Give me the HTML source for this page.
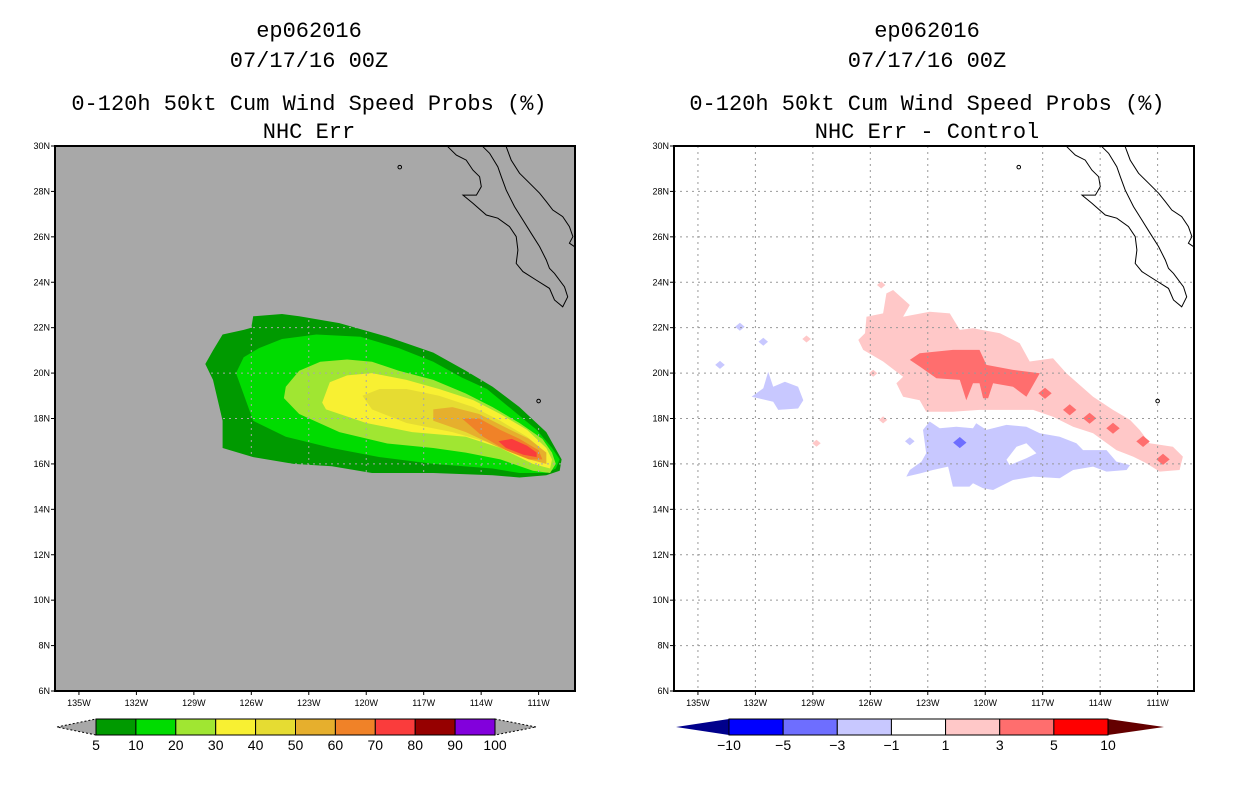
<!DOCTYPE html>
<html><head><meta charset="utf-8"><style>
body{margin:0;background:#fff;width:1236px;height:800px;overflow:hidden}
svg{display:block}
text{font-family:"Liberation Mono",monospace}
.tk{font-family:"Liberation Sans",sans-serif;font-size:9px}
.cb{font-family:"Liberation Sans",sans-serif;font-size:14px}
</style></head><body>
<svg id="chart" width="1236" height="800" viewBox="0 0 1236 800">
<g id="titles">
<text x="309" y="37" text-anchor="middle" font-size="22">ep062016</text>
<text x="309" y="67" text-anchor="middle" font-size="22">07/17/16 00Z</text>
<text x="309" y="110" text-anchor="middle" font-size="22">0-120h 50kt Cum Wind Speed Probs (%)</text>
<text x="309" y="138" text-anchor="middle" font-size="22">NHC Err</text>
<text x="927" y="37" text-anchor="middle" font-size="22">ep062016</text>
<text x="927" y="67" text-anchor="middle" font-size="22">07/17/16 00Z</text>
<text x="927" y="110" text-anchor="middle" font-size="22">0-120h 50kt Cum Wind Speed Probs (%)</text>
<text x="927" y="138" text-anchor="middle" font-size="22">NHC Err - Control</text>
</g>
</svg>
<script>
// ---- data ----
const lonTicks=[-135,-132,-129,-126,-123,-120,-117,-114,-111];
const lonTickLabels=["135W","132W","129W","126W","123W","120W","117W","114W","111W"];
const latTicks=[6,8,10,12,14,16,18,20,22,24,26,28,30];
const latTickLabels=["6N","8N","10N","12N","14N","16N","18N","20N","22N","24N","26N","28N","30N"];
const probLevels=["5","10","20","30","40","50","60","70","80","90","100"];
const probColors=["#009a00","#00dc00","#a0e632","#f8f032","#e6dc32","#e6af2d","#f08228","#fa3c3c","#960000","#8200dc"];
const diffLevels=["-10","-5","-3","-1","1","3","5","10"];
const diffColors=["#0000ff","#6e6eff","#c8c8ff","#ffffff","#ffc8c8","#ff6e6e","#ff0000"];
const prob5=[[-125.9,22.5],[-124.4,22.6],[-123.5,22.5],[-121.4,22.2],[-118.9,21.6],[-116.5,20.9],[-114.8,20.1],[-113.4,19.4],[-112.0,18.5],[-110.6,17.4],[-109.8,16.2],[-109.9,15.7],[-110.6,15.5],[-112.0,15.4],[-113.4,15.5],[-116.5,15.6],[-119.7,15.6],[-121.8,15.9],[-123.8,16.0],[-125.9,16.3],[-127.5,16.7],[-127.5,17.9],[-128.0,19.7],[-128.4,20.4],[-128.0,21.0],[-127.5,21.7],[-126.4,21.9],[-126.0,22.0]];
const prob10=[[-124.4,21.5],[-122.6,21.7],[-120.3,21.6],[-118.3,21.1],[-116.5,20.5],[-115.0,19.8],[-113.7,19.3],[-112.4,18.4],[-111.1,17.5],[-110.3,16.7],[-109.9,16.2],[-110.1,15.8],[-110.6,15.6],[-112.0,15.6],[-113.4,15.8],[-116.5,16.0],[-119.3,16.3],[-121.8,16.7],[-124.2,17.2],[-125.9,17.9],[-126.8,20.0],[-126.4,20.7],[-125.6,21.1]];
const prob20=[[-124.2,19.4],[-123.5,20.1],[-122.4,20.5],[-121.0,20.6],[-119.7,20.5],[-118.3,20.1],[-116.5,19.7],[-114.8,19.1],[-113.4,18.5],[-112.0,17.8],[-110.8,17.1],[-110.3,16.5],[-110.1,16.0],[-110.4,15.6],[-111.3,15.7],[-113.0,16.2],[-114.8,16.5],[-116.5,16.7],[-118.9,16.9],[-121.4,17.4],[-123.5,18.2],[-124.3,18.9]];
const prob30=[[-122.3,18.7],[-121.9,19.6],[-121.0,19.9],[-119.7,20.0],[-117.9,19.7],[-116.2,19.3],[-114.4,18.8],[-113.0,18.2],[-111.6,17.5],[-110.6,16.7],[-110.3,16.2],[-110.4,15.8],[-111.3,16.0],[-113.0,16.7],[-114.8,17.2],[-117.6,17.4],[-120.0,17.8],[-122.1,18.4]];
const prob40=[[-120.2,19.0],[-119.3,19.3],[-117.9,19.3],[-116.2,19.0],[-114.4,18.5],[-113.0,17.9],[-111.6,17.2],[-110.6,16.5],[-110.6,16.0],[-111.6,16.3],[-113.4,16.9],[-115.5,17.4],[-117.9,17.8],[-119.7,18.4]];
const prob50=[[-116.5,18.4],[-115.5,18.5],[-114.1,18.2],[-112.7,17.6],[-111.5,17.1],[-110.6,16.5],[-110.6,16.0],[-111.5,16.2],[-113.0,16.7],[-114.8,17.4],[-116.5,17.9]];
const prob60=[[-115.0,18.0],[-114.1,18.0],[-113.0,17.5],[-112.0,17.1],[-111.0,16.6],[-110.8,16.2],[-111.5,16.2],[-112.7,16.6],[-113.9,17.2]];
const prob70=[[-113.1,17.0],[-112.4,17.1],[-111.6,16.8],[-111.1,16.5],[-111.1,16.3],[-111.8,16.4],[-112.7,16.7]];
const diffPos1=[[-126.2,22.48],[-125.33,22.63],[-125.16,23.51],[-124.81,23.66],[-123.94,23.0],[-124.29,22.48],[-122.9,22.7],[-121.85,22.63],[-121.33,21.9],[-120.64,21.97],[-119.23,21.75],[-118.2,21.31],[-117.68,20.51],[-116.46,20.65],[-115.76,19.99],[-114.37,18.96],[-113.33,18.38],[-112.44,17.94],[-111.94,17.5],[-111.42,16.91],[-110.2,16.76],[-109.68,16.32],[-109.85,15.73],[-110.89,15.66],[-111.59,16.03],[-112.28,16.32],[-113.15,16.61],[-114.37,17.35],[-115.41,17.64],[-116.46,18.08],[-117.5,18.38],[-118.89,18.38],[-120.3,18.38],[-121.69,18.3],[-123.08,18.3],[-123.42,18.8],[-124.29,18.96],[-124.64,19.55],[-124.29,19.84],[-125.33,20.51],[-126.37,21.02],[-126.63,21.46],[-126.28,21.75]];
const diffPos3=[[-123.94,20.58],[-123.42,20.87],[-121.69,21.02],[-120.3,21.02],[-119.94,20.36],[-118.55,20.14],[-117.15,19.99],[-117.85,18.96],[-118.55,19.4],[-119.59,19.55],[-119.85,18.89],[-120.11,18.89],[-120.3,19.55],[-120.64,19.55],[-120.99,18.8],[-121.33,19.7],[-122.55,19.77],[-123.42,20.29]];
const diffPos3Blobs=[[-116.88,19.11],[-115.59,18.38],[-114.55,18.01],[-113.33,17.57],[-111.76,16.99],[-110.72,16.2]];
const diffPos1Blobs=[[-125.43,23.88],[-129.33,21.5],[-128.81,16.91],[-125.33,17.94],[-125.85,19.99]];
const diffNeg1=[[-123.25,17.5],[-122.9,17.87],[-122.38,17.57],[-121.51,17.64],[-120.64,17.57],[-120.47,17.79],[-119.94,17.5],[-118.89,17.72],[-117.85,17.64],[-117.15,17.35],[-116.11,17.2],[-115.24,16.91],[-114.89,16.61],[-113.67,16.61],[-113.15,16.1],[-112.44,15.95],[-112.62,15.73],[-113.67,15.66],[-114.37,15.88],[-115.41,15.73],[-116.11,15.37],[-117.5,15.44],[-118.55,15.29],[-119.59,14.85],[-120.11,14.93],[-120.64,15.15],[-120.82,15.0],[-121.69,15.0],[-121.94,15.88],[-122.73,15.73],[-123.42,15.58],[-124.12,15.44],[-123.94,15.73],[-123.33,16.1],[-123.08,16.47]];
const diffNegHole=[[-118.89,16.18],[-118.37,16.76],[-117.85,16.91],[-117.33,16.47],[-117.85,16.25],[-118.72,15.95]];
const diffNegWest=[[-132.2,18.96],[-131.59,19.33],[-131.33,20.06],[-131.07,19.4],[-130.46,19.62],[-129.77,19.4],[-129.5,18.8],[-129.77,18.44],[-130.81,18.38],[-131.07,18.74],[-131.85,18.89]];
const diffNeg1Blobs=[[-131.59,21.38],[-132.81,22.04],[-133.85,20.36],[-123.94,17.0]];
const diffNeg3Blobs=[[-121.33,16.94]];
const bajaCoast=[[-115.74,29.97],[-115.3,29.6],[-114.78,29.38],[-114.43,28.94],[-114.08,28.65],[-113.99,28.21],[-114.25,27.84],[-114.95,27.84],[-114.43,27.48],[-113.73,26.96],[-113.13,26.82],[-112.52,26.45],[-112.17,26.01],[-112.08,25.42],[-112.17,24.83],[-111.82,24.47],[-111.13,24.1],[-110.43,23.73],[-110.17,23.22],[-109.74,22.92],[-109.48,23.36],[-109.65,23.8],[-110.17,24.39],[-110.43,24.61],[-110.6,24.98],[-110.95,25.57],[-111.39,26.16],[-111.82,26.74],[-112.26,27.33],[-112.69,28.06],[-112.95,28.65],[-113.13,29.09],[-113.56,29.68],[-113.91,29.97]];
const mainlandCoast=[[-112.69,29.97],[-112.43,29.38],[-112.0,28.8],[-111.47,28.36],[-110.95,27.92],[-110.6,27.55],[-110.26,27.18],[-109.74,26.89],[-109.39,26.45],[-109.21,26.01],[-109.39,25.72],[-109.13,25.57]];
const islands=[[-111.0,18.77],[-118.25,29.07]];

// ---- drawing ----
const NS='http://www.w3.org/2000/svg';
const svg=document.getElementById('chart');
function mk(tag,attrs,parent){const e=document.createElementNS(NS,tag);for(const k in attrs)e.setAttribute(k,attrs[k]);(parent||svg).appendChild(e);return e;}
const LON0=-136.25,LON1=-109.1,LAT0=6,LAT1=30,W=520,H=545,TOP=146;
function drawPanel(x0,name,bg){
  const xs=lon=>x0+(lon-LON0)/(LON1-LON0)*W;
  const ys=lat=>TOP+(LAT1-lat)/(LAT1-LAT0)*H;
  const pts=a=>a.map(p=>xs(p[0]).toFixed(1)+','+ys(p[1]).toFixed(1)).join(' ');
  const g=mk('g',{});
  
  
  const bgR=mk('rect',{x:x0,y:TOP,width:W,height:H,fill:bg},g);
  
  
  function poly(a,fill,nm){const p=mk('polygon',{points:pts(a),fill:fill},g);
    
    }
  function blob(c,r,fill,nm){poly([[c[0]-r,c[1]],[c[0],c[1]+r*0.7],[c[0]+r,c[1]],[c[0],c[1]-r*0.7]],fill,nm);}
  return {xs,ys,pts,g,poly,blob};
}
function finishPanel(P,x0,name,gridColor){
  const {xs,ys,pts,g}=P;
  lonTicks.forEach(l=>{const ln=mk('line',{x1:xs(l),x2:xs(l),y1:TOP,y2:TOP+H,stroke:gridColor,'stroke-width':1,'stroke-dasharray':'2,4'},g);
    
    });
  latTicks.slice(1,-1).forEach(l=>{const ln=mk('line',{x1:x0,x2:x0+W,y1:ys(l),y2:ys(l),stroke:gridColor,'stroke-width':1,'stroke-dasharray':'2,4'},g);
    
    });
  [bajaCoast,mainlandCoast].forEach(c=>{const pl=mk('polyline',{points:pts(c),fill:'none',stroke:'#000','stroke-width':1},g);
    
    });
  islands.forEach(c=>{const ci=mk('circle',{cx:xs(c[0]),cy:ys(c[1]),r:1.8,fill:'none',stroke:'#000','stroke-width':1},g);
    
    });
  const fr=mk('rect',{x:x0,y:TOP,width:W,height:H,fill:'none',stroke:'#000','stroke-width':2},g);
  
  
  lonTicks.forEach((l,i)=>{
    const t=mk('line',{x1:xs(l),x2:xs(l),y1:TOP+H,y2:TOP+H+4,stroke:'#000'},g);
    
    
    const tx=mk('text',{x:xs(l),y:TOP+H+15,'text-anchor':'middle',class:'tk'},g);
    tx.textContent=lonTickLabels[i];
    
    });
  latTicks.forEach((l,i)=>{
    const t=mk('line',{x1:x0-4,x2:x0,y1:ys(l),y2:ys(l),stroke:'#000'},g);
    
    
    const tx=mk('text',{x:x0-5,y:ys(l)+3,'text-anchor':'end',class:'tk'},g);
    tx.textContent=latTickLabels[i];
    
    });
}
// left panel
const L=drawPanel(55,'left','#a8a8a8');
[prob5,prob10,prob20,prob30,prob40,prob50,prob60,prob70].forEach((a,i)=>L.poly(a,probColors[i],'prob-contour-'+probLevels[i]));
finishPanel(L,55,'left','#a8a8a8');
// right panel
const R=drawPanel(674,'right','#ffffff');
R.poly(diffPos1,diffColors[4],'diff-contour-pos1');
diffPos1Blobs.forEach(c=>R.blob(c,0.22,diffColors[4],'diff-blob-pos1'));
R.poly(diffPos3,diffColors[5],'diff-contour-pos3');
diffPos3Blobs.forEach(c=>R.blob(c,0.35,diffColors[5],'diff-blob-pos3'));
R.poly(diffNeg1,diffColors[2],'diff-contour-neg1');
R.poly(diffNegHole,'#ffffff','diff-contour-hole');
R.poly(diffNegWest,diffColors[2],'diff-contour-neg1-west');
diffNeg1Blobs.forEach(c=>R.blob(c,0.25,diffColors[2],'diff-blob-neg1'));
diffNeg3Blobs.forEach(c=>R.blob(c,0.35,diffColors[1],'diff-blob-neg3'));
finishPanel(R,674,'right','#999999');

// colorbars
function colorbar(x0,x1,labels,colors,lt,rt,triL,triR,triStroke,name){
  const g=mk('g',{});
  
  
  const y0=719,y1=735,ym=727,n=colors.length,w=(x1-x0)/n;
  const a=mk('polygon',{points:`${lt},${ym} ${x0},${y0} ${x0},${y1}`,fill:triL,stroke:triStroke,'stroke-width':1,'stroke-dasharray':triStroke==='none'?'':'2,2'},g);
  
  
  const b=mk('polygon',{points:`${rt},${ym} ${x1},${y0} ${x1},${y1}`,fill:triR,stroke:triStroke,'stroke-width':1,'stroke-dasharray':triStroke==='none'?'':'2,2'},g);
  
  
  colors.forEach((c,i)=>{const r=mk('rect',{x:x0+i*w,y:y0,width:w,height:y1-y0,fill:c,stroke:'#000','stroke-width':1},g);
    
    });
  labels.forEach((t,i)=>{const tx=mk('text',{x:x0+i*w,y:750,'text-anchor':'middle',class:'cb'},g);
    tx.textContent=t.replace('-','\u2212');
    
    });
}
colorbar(96,495,probLevels,probColors,57,536,'#a8a8a8','#a8a8a8','#000','left-colorbar');
colorbar(729,1108,diffLevels,diffColors,676,1164,'#00008c','#640000','none','right-colorbar');
</script>
</body></html>
